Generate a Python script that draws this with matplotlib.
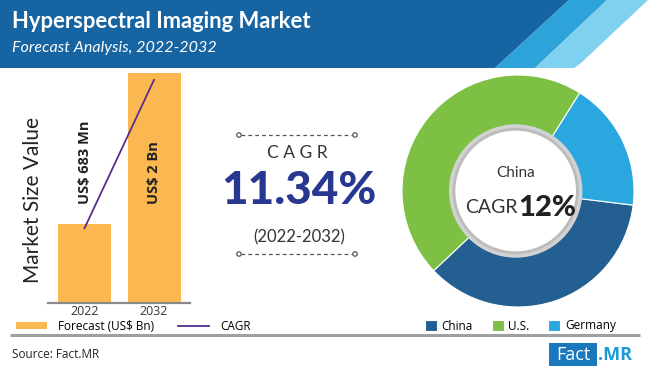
import matplotlib
matplotlib.use("Agg")
import matplotlib.pyplot as plt
from matplotlib.patches import Polygon, Circle, Rectangle, Patch
from matplotlib.lines import Line2D

# ---------------- data ----------------
years = ["2022", "2032"]
market_values = [0.683, 2.0]          # US$ Bn
bar_labels = ["US$ 683 Mn", "US$ 2 Bn"]
cagr_line = [0.65, 1.94]              # drawn CAGR trend line
cagr_text = "11.34%"
cagr_period = "(2022-2032)"
countries = ["China", "U.S.", "Germany"]
country_shares = [36, 46, 18]
china_cagr = "12%"

W, H = 650, 368
fig = plt.figure(figsize=(W / 100, H / 100), dpi=100)
fig.patch.set_facecolor("white")

FONT = ["Lato", "DejaVu Sans"]
SANS = ["Open Sans", "DejaVu Sans"]

# overlay axes in pixel coords
ov = fig.add_axes([0, 0, 1, 1], zorder=0)
ov.set_xlim(0, W)
ov.set_ylim(H, 0)
ov.axis("off")

dark = "#1764a3"
mid = "#2ea3da"
light = "#80d0ef"
ov.add_patch(Polygon([(0, 0), (569, 0), (495, 68), (0, 68)], closed=True, fc=dark, ec="none"))
ov.add_patch(Polygon([(569, 0), (607, 0), (535, 68), (495, 68)], closed=True, fc=mid, ec="none"))
ov.add_patch(Polygon([(607, 0), (648, 0), (581, 63), (574, 68), (535, 68)], closed=True, fc=light, ec="none"))

ov.text(12, 22, "Hyperspectral Imaging Market", color="white", fontsize=15.8,
        fontweight="bold", family=FONT, va="center", ha="left")
ov.text(12, 48, "Forecast Analysis, 2022-2032", color="white", fontsize=11.6,
        style="italic", family=FONT, va="center", ha="left")

# footer
ov.plot([10, 640], [335, 335], color="#a0a0a0", lw=2.2, solid_capstyle="butt")
ov.text(12, 354, "Source: Fact.MR", fontsize=8.5, color="#222222",
        family=SANS, va="center", ha="left")
ov.add_patch(Rectangle((549, 343), 48, 23, fc="#1a78bd", ec="none"))
ov.text(573, 354.5, "Fact", color="white", fontsize=13, family=SANS,
        va="center", ha="center")
ov.text(598, 354.5, ".MR", color="#1a9ad8", fontsize=13, fontweight="bold",
        family=SANS, va="center", ha="left")

# Market Size Value
ov.text(33, 200, "Market Size Value", rotation=90, fontsize=15, color="#222222",
        family=FONT, va="center", ha="center")

# center CAGR block
for yy in (135, 254):
    ov.plot([241, 353], [yy, yy], color="#555555", lw=0.9, ls=(0, (3, 2.5)))
    for xx in (239, 355):
        ov.add_patch(Circle((xx, yy), 2.2, fc="white", ec="#555555", lw=0.9, zorder=3))
ov.text(297, 153, "C A G R", fontsize=12.5, color="#333333", family=FONT,
        va="center", ha="center")
ov.text(299, 191, cagr_text, fontsize=33, color="#283891", family=FONT,
        fontweight="black", va="center", ha="center")
ov.text(299, 237, cagr_period, fontsize=12, color="#333333", family=FONT,
        va="center", ha="center")

# ---------------- bar chart ----------------
base_px, top_px = 303, 73
x_left, x_right = 48, 190
c0, step = 84.5, 69.5
ymax = 2.0
axb = fig.add_axes([x_left / W, (H - base_px) / H, (x_right - x_left) / W, (base_px - top_px) / H], zorder=2)
axb.set_facecolor("none")
xs = list(range(len(years)))
bars = axb.bar(xs, market_values, width=53 / step, color="#fbb851", zorder=1)
ln, = axb.plot(xs, cagr_line, color="#5b2c8f", lw=1.3, zorder=3)
axb.set_xlim((x_left - c0) / step, (x_right - c0) / step)
axb.set_ylim(0, ymax)
for s in ("top", "right", "left"):
    axb.spines[s].set_visible(False)
axb.spines["bottom"].set_color("#8a8a8a")
axb.spines["bottom"].set_linewidth(1.6)
axb.set_yticks([])
axb.set_xticks(xs)
axb.set_xticklabels(years, fontsize=9, color="#333333", family=SANS)
axb.tick_params(axis="x", length=0, pad=1.5)
label_y = [1.22, 1.13]
for x, lab, ly in zip(xs, bar_labels, label_y):
    axb.text(x, ly, lab, rotation=90, fontsize=10.5, fontweight="bold", color="#222222",
             family=SANS, va="center", ha="center", zorder=4)

fig.legend([Patch(fc="#fbb851"), Line2D([], [], color="#5b2c8f", lw=1.3)],
           ["Forecast (US$ Bn)", "CAGR"], ncol=2, frameon=False,
           loc="center left", bbox_to_anchor=(16 / W, 1 - 326 / H),
           prop={"family": SANS, "size": 8.5},
           handlelength=2.6, handleheight=0.5, handletextpad=1.0, columnspacing=2.0,
           borderaxespad=0, borderpad=0)

# ---------------- donut ----------------
cx, cy, R = 518, 191, 116
axp = fig.add_axes([(cx - R) / W, (H - cy - R) / H, 2 * R / W, 2 * R / H], zorder=2)
colors = ["#245f92", "#7dc043", "#2aa7df"]
wedges, _ = axp.pie(country_shares, colors=colors, startangle=-7, counterclock=False,
                    radius=1.0, wedgeprops=dict(width=0.5, edgecolor="white", linewidth=0.8))
axp.set_xlim(-1.0, 1.0)
axp.set_ylim(-1.0, 1.0)
axp.set_aspect("equal")
axp.axis("off")
# inner white disk with gray ring
axp.add_patch(Circle((-0.02, 0.0), 0.575, fc="#d2d2d2", ec="none", zorder=5))
axp.add_patch(Circle((-0.02, 0.0), 0.545, fc="#bcbcbc", ec="none", zorder=5))
axp.add_patch(Circle((-0.02, 0.0), 0.52, fc="white", ec="none", zorder=6))
axp.text(-0.02, 0.155, countries[0], fontsize=11, color="#333333", family=FONT,
         va="center", ha="center", zorder=7)
axp.text(0.0, -0.145, "CAGR", fontsize=14, color="#333333", family=FONT,
         va="center", ha="right", zorder=7)
axp.text(0.0, -0.145, china_cagr, fontsize=21, color="#222222", family=FONT,
         fontweight="black", va="center", ha="left", zorder=7)

fig.legend(wedges, countries, ncol=3, frameon=False, loc="center left",
           bbox_to_anchor=(425 / W, 1 - 326 / H),
           prop={"family": SANS, "size": 8.5},
           handlelength=1.0, handleheight=1.0, handletextpad=0.4, columnspacing=1.6,
           borderaxespad=0, borderpad=0)

fig.savefig("out.png", dpi=100, facecolor="white")
